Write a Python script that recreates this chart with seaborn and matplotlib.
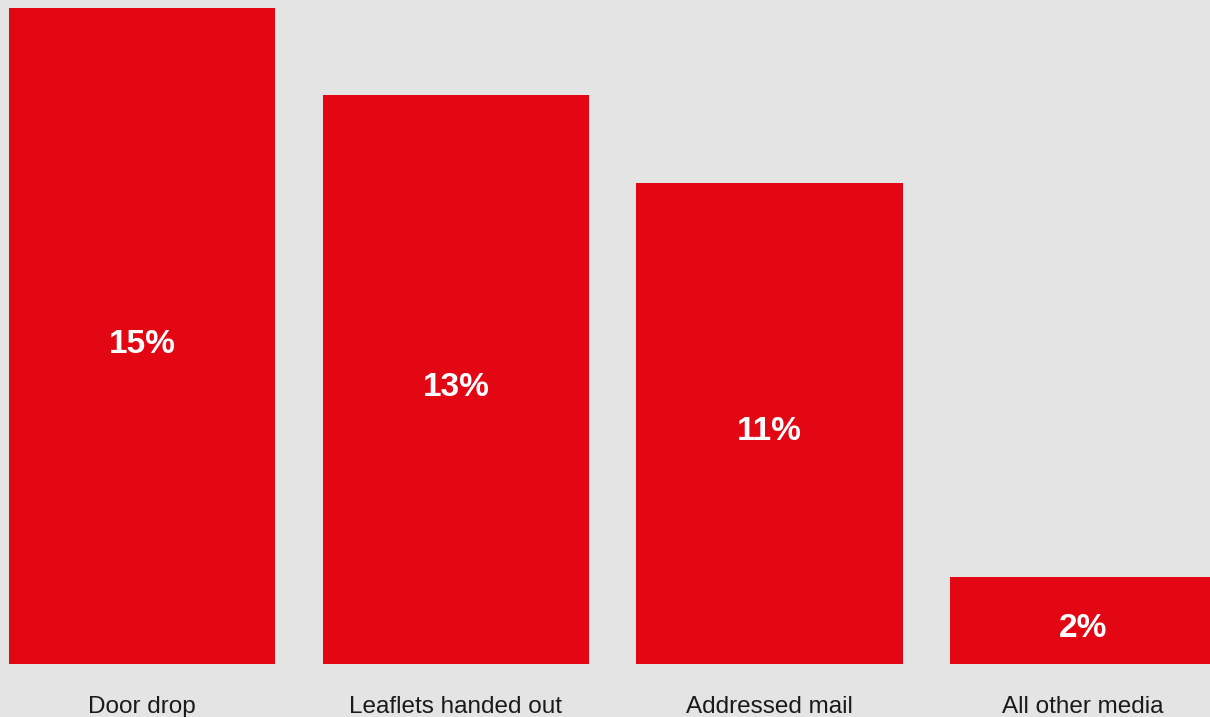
import matplotlib
matplotlib.use("Agg")
import matplotlib.pyplot as plt
import seaborn as sns
import pandas as pd

categories = ["Door drop", "Leaflets handed out", "Addressed mail", "All other media"]
shares = [15, 13, 11, 2]
value_labels = ["15%", "13%", "11%", "2%"]

BG = "#e3e4e3"
RED = "#e30613"

sns.set_theme(style="white")
plt.rcParams["font.family"] = ["Liberation Sans", "DejaVu Sans"]

df = pd.DataFrame({"category": categories, "share": shares})

fig = plt.figure(figsize=(12.1, 7.17), dpi=100, facecolor=BG)
ax = fig.add_axes([0, 53 / 717, 1, 664 / 717])
ax.set_facecolor(BG)

sns.barplot(data=df, x="category", y="share", color=RED, saturation=1,
            width=0.849, ax=ax)
for p in ax.patches:
    p.set_edgecolor("none")
    p.set_linewidth(0)

ax.set_xlim(-0.4532, 3.4044)
ax.set_ylim(0, 15.18)

# value labels sit in the middle of each bar
for i, (v, lab) in enumerate(zip(shares, value_labels)):
    ax.text(i, v / 2 - 0.19, lab, ha="center", va="center", color="white",
            fontsize=24, fontweight="bold")

ax.set_xlabel("")
ax.set_ylabel("")
ax.set_yticks([])
ax.tick_params(axis="x", length=0, pad=23, labelsize=17.5, labelcolor="#1a1a1a")
for s in ax.spines.values():
    s.set_visible(False)

fig.savefig("out.png", dpi=100, facecolor=BG)
